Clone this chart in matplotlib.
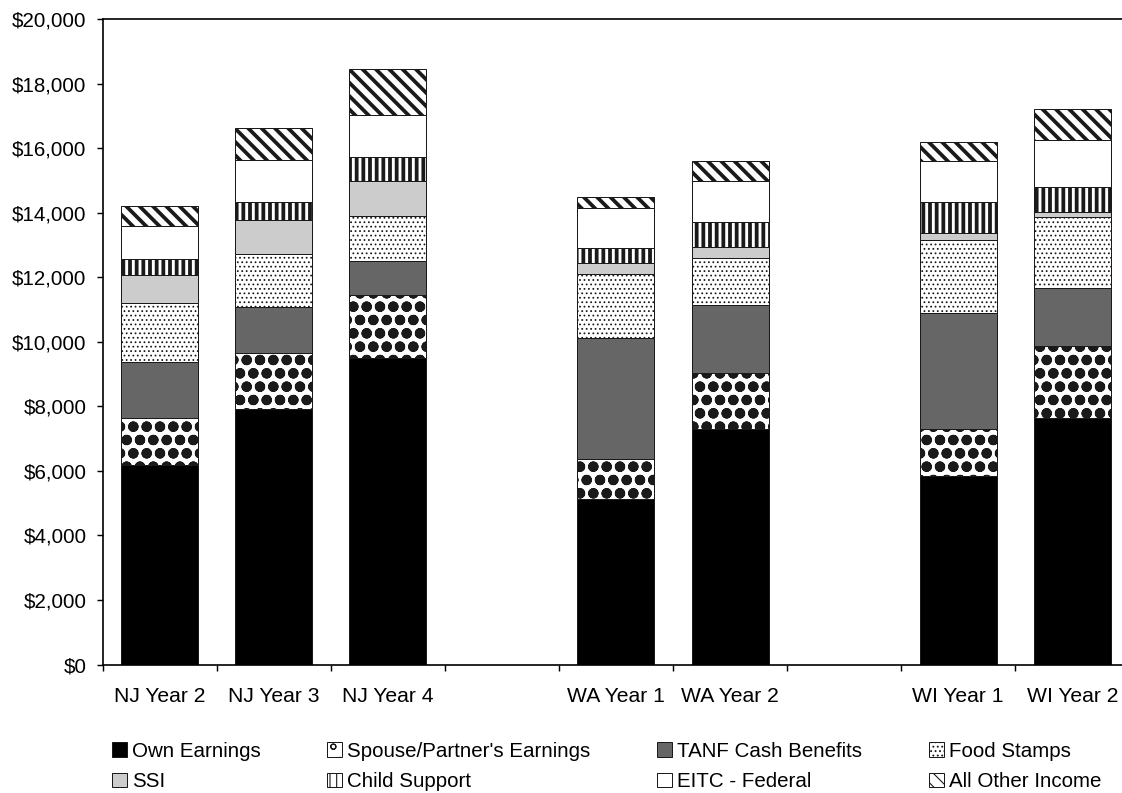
import matplotlib
matplotlib.use("Agg")
import matplotlib.pyplot as plt
from matplotlib.ticker import FuncFormatter, FixedLocator
import numpy as np

plt.rcParams['font.family'] = ['Liberation Sans', 'DejaVu Sans']

# bar labels (state + year)
labels = ['NJ Year 2', 'NJ Year 3', 'NJ Year 4', 'WA Year 1', 'WA Year 2',
          'WI Year 1', 'WI Year 2']

# income components, dollars
own_earnings = [6180, 7920, 9510, 5120, 7300, 5845, 7650]
spouse_earnings = [1465, 1745, 1945, 1240, 1745, 1445, 2230]
tanf = [1735, 1425, 1060, 3750, 2100, 3595, 1780]
food_stamps = [1830, 1635, 1385, 1985, 1465, 2275, 2220]
ssi = [860, 1055, 1085, 340, 340, 205, 155]
child_support = [515, 565, 735, 465, 775, 980, 755]
eitc = [1010, 1295, 1310, 1240, 1260, 1260, 1465]
other_income = [610, 980, 1415, 340, 620, 580, 960]

series_names = ['Own Earnings', "Spouse/Partner's Earnings", 'TANF Cash Benefits',
                'Food Stamps', 'SSI', 'Child Support', 'EITC - Federal',
                'All Other Income']
series_vals = [own_earnings, spouse_earnings, tanf, food_stamps, ssi,
               child_support, eitc, other_income]
# facecolor, hatch, hatch linewidth
styles = [('black', '', 1.0),
          ('white', 'o', 4.6),
          ('#666666', '', 1.0),
          ('white', '...', 0.9),
          ('#cccccc', '', 1.0),
          ('white', '||', 3.4),
          ('white', '', 1.0),
          ('white', '\\\\', 3.4)]

# x positions: leave an empty slot between states
pos = []
x = 0
prev = None
for lab in labels:
    st = lab.split()[0]
    if prev is not None and st != prev:
        x += 1
    pos.append(x)
    x += 1
    prev = st
pos = np.array(pos)
nslots = x

W, H, DPI = 1122, 793, 80
fig = plt.figure(figsize=(W / DPI, H / DPI), dpi=DPI)
ax = fig.add_axes([102.5 / W, 1 - 664.5 / H, (114.1 * nslots) / W, 645.2 / H])

handles = []
bottom = np.zeros(len(labels))
for name, vals, (fc, hatch, hlw) in zip(series_names, series_vals, styles):
    with plt.rc_context({'hatch.linewidth': hlw}):
        bars = ax.bar(pos, vals, width=0.675, bottom=bottom, color=fc,
                      edgecolor='#1a1a1a', linewidth=0.9, hatch=hatch,
                      label=name, zorder=2)
        for p in bars:
            if hasattr(p, 'set_hatch_linewidth'):
                p.set_hatch_linewidth(hlw)
    handles.append(bars)
    bottom += np.array(vals)

ax.set_xlim(-0.5, nslots - 0.5)
ax.set_ylim(0, 20000)
ax.yaxis.set_major_locator(FixedLocator(np.arange(0, 20001, 2000)))
ax.yaxis.set_major_formatter(FuncFormatter(lambda v, p: '${:,.0f}'.format(v)))

# slot boundaries carry the tick marks, labels sit at bar centres
ax.xaxis.set_major_locator(FixedLocator(np.arange(-0.5, nslots, 1.0)))
ax.xaxis.set_major_formatter(FuncFormatter(lambda v, p: ''))
ax.set_xticks(pos, minor=True)
ax.set_xticklabels(labels, minor=True)
ax.tick_params(axis='x', which='minor', length=0, pad=20, labelsize=19)
ax.tick_params(axis='x', which='major', direction='out', length=5.4, width=1.3)
ax.tick_params(axis='y', direction='out', length=5.4, width=1.3, pad=9,
               labelsize=18.5)

for s in ['left', 'bottom', 'top']:
    ax.spines[s].set_linewidth(1.5)
ax.spines['right'].set_visible(False)

# legend filled column-wise: rows are Own/Spouse/TANF/Food then SSI/CS/EITC/Other
order = [0, 4, 1, 5, 2, 6, 3, 7]
leg = fig.legend([handles[i] for i in order], [series_names[i] for i in order],
                 loc='upper left', bbox_to_anchor=(112 / W, 1 - 742 / H),
                 ncol=4, frameon=False, fontsize=18.5, handlelength=0.72,
                 handleheight=0.72, handletextpad=0.25, columnspacing=3.25,
                 labelspacing=0.55, borderpad=0, borderaxespad=0)

fig.savefig('out.png', dpi=DPI)
